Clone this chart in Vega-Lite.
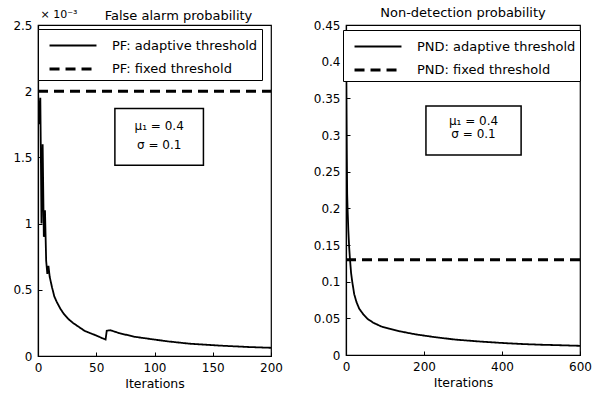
{
  "$schema": "https://vega.github.io/schema/vega-lite/v6.json",
  "background": "white",
  "padding": {"left": 12, "top": 6, "right": 5, "bottom": 2},
  "config": {
    "font": "DejaVu Sans",
    "view": {"stroke": "black", "strokeWidth": 1.2},
    "axis": {
      "domainColor": "black", "domainWidth": 1.2, "tickColor": "black", "tickSize": -4,
      "labelFontSize": 12, "labelColor": "black", "titleFontSize": 12.5, "titleColor": "black",
      "titleFontWeight": "normal", "grid": false, "labelPadding": 10, "labelFlush": false
    },
    "axisBottom": {"labelPadding": 10},
    "title": {"fontSize": 13, "fontWeight": "normal", "color": "black", "frame": "group"},
    "legend": {
      "strokeColor": "black", "fillColor": "white", "padding": 4, "labelFontSize": 13, "labelLimit": 300,
      "labelColor": "black", "symbolType": "M-2.1,0H2.1", "symbolSize": 500, "symbolStrokeColor": "black",
      "symbolFillColor": "transparent", "title": null, "rowPadding": 3, "symbolOffset": 18, "labelOffset": 26
    },
    "concat": {"spacing": 28}
  },
  "datasets": {
    "pf": [
      {"it": 0, "p": 0.00200, "s": "adaptive"}, {"it": 1, "p": 0.00175, "s": "adaptive"},
      {"it": 2, "p": 0.00195, "s": "adaptive"}, {"it": 3, "p": 0.00100, "s": "adaptive"},
      {"it": 4, "p": 0.00160, "s": "adaptive"}, {"it": 5, "p": 0.00090, "s": "adaptive"},
      {"it": 6, "p": 0.00110, "s": "adaptive"}, {"it": 7, "p": 0.00072, "s": "adaptive"},
      {"it": 8, "p": 0.00062, "s": "adaptive"}, {"it": 9, "p": 0.00068, "s": "adaptive"},
      {"it": 10, "p": 0.00060, "s": "adaptive"}, {"it": 12, "p": 0.00052, "s": "adaptive"},
      {"it": 14, "p": 0.00045, "s": "adaptive"}, {"it": 16, "p": 0.00041, "s": "adaptive"},
      {"it": 19, "p": 0.00036, "s": "adaptive"}, {"it": 22, "p": 0.00032, "s": "adaptive"},
      {"it": 26, "p": 0.00028, "s": "adaptive"}, {"it": 30, "p": 0.00025, "s": "adaptive"},
      {"it": 35, "p": 0.00022, "s": "adaptive"}, {"it": 40, "p": 0.00019, "s": "adaptive"},
      {"it": 45, "p": 0.000172, "s": "adaptive"}, {"it": 50, "p": 0.000155, "s": "adaptive"},
      {"it": 55, "p": 0.000135, "s": "adaptive"}, {"it": 58, "p": 0.000125, "s": "adaptive"},
      {"it": 59, "p": 0.00019, "s": "adaptive"}, {"it": 62, "p": 0.000195, "s": "adaptive"},
      {"it": 70, "p": 0.000172, "s": "adaptive"}, {"it": 83, "p": 0.000145, "s": "adaptive"},
      {"it": 100, "p": 0.000124, "s": "adaptive"}, {"it": 112, "p": 0.000110, "s": "adaptive"},
      {"it": 130, "p": 0.000093, "s": "adaptive"}, {"it": 155, "p": 0.000079, "s": "adaptive"},
      {"it": 180, "p": 0.000068, "s": "adaptive"}, {"it": 200, "p": 0.000062, "s": "adaptive"},
      {"it": 0, "p": 0.002, "s": "fixed"}, {"it": 200, "p": 0.002, "s": "fixed"}
    ],
    "pnd": [
      {"it": 0, "p": 0.45, "s": "adaptive"}, {"it": 1, "p": 0.36, "s": "adaptive"},
      {"it": 2, "p": 0.28, "s": "adaptive"}, {"it": 3, "p": 0.22, "s": "adaptive"},
      {"it": 4, "p": 0.20, "s": "adaptive"}, {"it": 6, "p": 0.17, "s": "adaptive"},
      {"it": 8, "p": 0.148, "s": "adaptive"}, {"it": 10, "p": 0.132, "s": "adaptive"},
      {"it": 13, "p": 0.112, "s": "adaptive"}, {"it": 16, "p": 0.100, "s": "adaptive"},
      {"it": 21, "p": 0.083, "s": "adaptive"}, {"it": 27, "p": 0.072, "s": "adaptive"},
      {"it": 34, "p": 0.063, "s": "adaptive"}, {"it": 45, "p": 0.055, "s": "adaptive"},
      {"it": 56, "p": 0.049, "s": "adaptive"}, {"it": 70, "p": 0.044, "s": "adaptive"},
      {"it": 90, "p": 0.039, "s": "adaptive"}, {"it": 110, "p": 0.036, "s": "adaptive"},
      {"it": 141, "p": 0.032, "s": "adaptive"}, {"it": 180, "p": 0.028, "s": "adaptive"},
      {"it": 226, "p": 0.0245, "s": "adaptive"}, {"it": 280, "p": 0.021, "s": "adaptive"},
      {"it": 340, "p": 0.0185, "s": "adaptive"}, {"it": 397, "p": 0.0165, "s": "adaptive"},
      {"it": 450, "p": 0.015, "s": "adaptive"}, {"it": 500, "p": 0.014, "s": "adaptive"},
      {"it": 550, "p": 0.0133, "s": "adaptive"}, {"it": 600, "p": 0.0125, "s": "adaptive"},
      {"it": 0, "p": 0.13, "s": "fixed"}, {"it": 600, "p": 0.13, "s": "fixed"}
    ],
    "boxL": [{"x1": 66, "x2": 142, "y1": 0.00144, "y2": 0.00187}],
    "textL": [{"x": 104, "y": 0.00174, "t": "μ₁ = 0.4"}, {"x": 104, "y": 0.00159, "t": "σ = 0.1"}],
    "boxR": [{"x1": 205, "x2": 449, "y1": 0.2727, "y2": 0.3395}],
    "textR": [{"x": 327, "y": 0.319, "t": "μ₁ = 0.4"}, {"x": 327, "y": 0.3015, "t": "σ = 0.1"}]
  },
  "hconcat": [
    {
      "width": 233, "height": 331,
      "title": {"text": "False alarm probability", "dx": 24, "offset": -15},
      "layer": [
        {
          "data": {"name": "pf"},
          "mark": {"type": "line", "color": "black", "clip": true},
          "encoding": {
            "x": {"field": "it", "type": "quantitative", "scale": {"domain": [0, 200], "nice": false},
                  "axis": {"orient": "bottom", "title": "Iterations", "values": [0, 50, 100, 150, 200], "titlePadding": 4}},
            "y": {"field": "p", "type": "quantitative", "scale": {"domain": [0, 0.0025], "nice": false},
                  "axis": {"orient": "left", "values": [0, 0.0005, 0.001, 0.0015, 0.002, 0.0025],
                           "labelExpr": "format(datum.value*1000, '~g')",
                           "title": "× 10⁻³", "titleFontSize": 11, "titleAngle": 0, "titleAlign": "left", "titleBaseline": "bottom",
                           "titleX": 2, "titleY": -6}},
            "strokeDash": {"field": "s", "type": "nominal",
                           "scale": {"domain": ["adaptive", "fixed"], "range": [[1, 0], [10, 6]]},
                           "legend": {"orient": "none", "legendX": 0, "legendY": 4,
                                      "labelExpr": "datum.value == 'adaptive' ? 'PF: adaptive threshold' : 'PF: fixed threshold'"}},
            "strokeWidth": {"field": "s", "type": "nominal",
                            "scale": {"domain": ["adaptive", "fixed"], "range": [1.8, 3]}}
          }
        },
        {
          "data": {"name": "boxL"},
          "mark": {"type": "rect", "fill": "white", "stroke": "black", "strokeWidth": 1.5},
          "encoding": {
            "x": {"field": "x1", "type": "quantitative", "axis": null},
            "x2": {"field": "x2"},
            "y": {"field": "y1", "type": "quantitative", "axis": null},
            "y2": {"field": "y2"}
          }
        },
        {
          "data": {"name": "textL"},
          "mark": {"type": "text", "fontSize": 12, "color": "black"},
          "encoding": {
            "x": {"field": "x", "type": "quantitative", "axis": null},
            "y": {"field": "y", "type": "quantitative", "axis": null},
            "text": {"field": "t"}
          }
        }
      ],
      "resolve": {"axis": {"x": "independent", "y": "independent"}}
    },
    {
      "width": 234, "height": 330,
      "title": {"text": "Non-detection probability", "offset": -1},
      "layer": [
        {
          "data": {"name": "pnd"},
          "mark": {"type": "line", "color": "black", "clip": true},
          "encoding": {
            "x": {"field": "it", "type": "quantitative", "scale": {"domain": [0, 600], "nice": false},
                  "axis": {"orient": "bottom", "title": "Iterations", "values": [0, 200, 400, 600], "titlePadding": 4}},
            "y": {"field": "p", "type": "quantitative", "scale": {"domain": [0, 0.45], "nice": false},
                  "axis": {"orient": "left", "title": null, "values": [0, 0.05, 0.1, 0.15, 0.2, 0.25, 0.3, 0.35, 0.4, 0.45],
                           "labelExpr": "format(datum.value, '~g')"}},
            "strokeDash": {"field": "s", "type": "nominal",
                           "scale": {"domain": ["adaptive", "fixed"], "range": [[1, 0], [10, 6]]},
                           "legend": {"orient": "none", "legendX": -3, "legendY": 5,
                                      "labelExpr": "datum.value == 'adaptive' ? 'PND: adaptive threshold' : 'PND: fixed threshold'"}},
            "strokeWidth": {"field": "s", "type": "nominal",
                            "scale": {"domain": ["adaptive", "fixed"], "range": [1.8, 3]}}
          }
        },
        {
          "data": {"name": "boxR"},
          "mark": {"type": "rect", "fill": "white", "stroke": "black", "strokeWidth": 1.5},
          "encoding": {
            "x": {"field": "x1", "type": "quantitative", "axis": null},
            "x2": {"field": "x2"},
            "y": {"field": "y1", "type": "quantitative", "axis": null},
            "y2": {"field": "y2"}
          }
        },
        {
          "data": {"name": "textR"},
          "mark": {"type": "text", "fontSize": 12, "color": "black"},
          "encoding": {
            "x": {"field": "x", "type": "quantitative", "axis": null},
            "y": {"field": "y", "type": "quantitative", "axis": null},
            "text": {"field": "t"}
          }
        }
      ],
      "resolve": {"axis": {"x": "independent", "y": "independent"}}
    }
  ],
  "resolve": {"legend": {"strokeDash": "independent", "strokeWidth": "independent"}, "scale": {"strokeDash": "independent", "strokeWidth": "independent"}}
}
